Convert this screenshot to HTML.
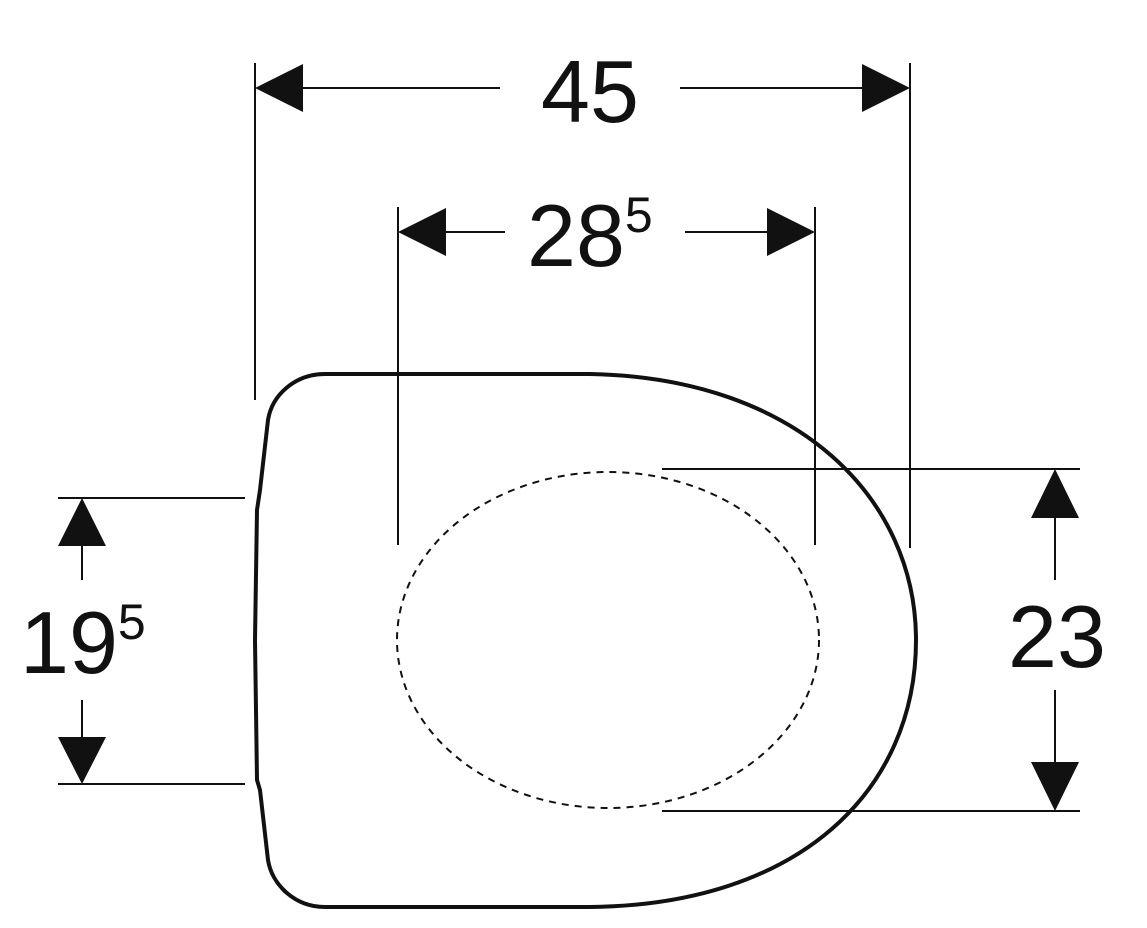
<!DOCTYPE html>
<html><head><meta charset="utf-8"><style>
html,body{margin:0;padding:0;background:#fff;}
svg{display:block;}
text{font-family:"Liberation Sans",sans-serif;fill:#111;}
</style></head><body>
<svg width="1147" height="928" viewBox="0 0 1147 928" xmlns="http://www.w3.org/2000/svg">
<g stroke="#111" stroke-width="2" fill="none">
<!-- extension lines -->
<line x1="255" y1="63" x2="255" y2="400"/>
<line x1="910" y1="63" x2="910" y2="548"/>
<line x1="398" y1="207" x2="398" y2="545"/>
<line x1="815" y1="207" x2="815" y2="545"/>
<line x1="58" y1="498" x2="245" y2="498"/>
<line x1="58" y1="784" x2="245" y2="784"/>
<line x1="662" y1="469" x2="1080" y2="469"/>
<line x1="662" y1="811" x2="1080" y2="811"/>
<!-- dim lines -->
<line x1="300" y1="88" x2="500" y2="88"/>
<line x1="680" y1="88" x2="865" y2="88"/>
<line x1="444" y1="232" x2="505" y2="232"/>
<line x1="685" y1="232" x2="770" y2="232"/>
<line x1="82" y1="544" x2="82" y2="580"/>
<line x1="82" y1="700" x2="82" y2="739"/>
<line x1="1055" y1="516" x2="1055" y2="580"/>
<line x1="1055" y1="690" x2="1055" y2="764"/>
</g>
<g fill="#111">
<polygon points="255,88 303,64 303,112"/>
<polygon points="910,88 862,64 862,112"/>
<polygon points="398,232 446,208 446,256"/>
<polygon points="815,232 767,208 767,256"/>
<polygon points="82,498 58,546 106,546"/>
<polygon points="82,784 58,737 106,737"/>
<polygon points="1055,469 1031,518 1079,518"/>
<polygon points="1055,811 1031,762 1079,762"/>
</g>
<!-- seat outline -->
<path d="M325,374 L590,374 C800,378 916,500 916,640 C916,790 800,905 590,907 L325,907 C295,907 272,885 268,860 L260,790 L257,780 L255,640 L257,510 L260,490 L268,420 C272,395 295,374 325,374 Z" stroke="#111" stroke-width="4" fill="none"/>
<!-- dashed opening -->
<ellipse cx="608" cy="640" rx="211" ry="168" stroke="#111" stroke-width="2" fill="none" stroke-dasharray="7,6"/>
<!-- labels -->
<text x="590" y="122" font-size="88" text-anchor="middle">45</text>
<text x="527" y="266" font-size="88">28<tspan font-size="50" dy="-34">5</tspan></text>
<text x="20" y="673" font-size="88">19<tspan font-size="50" dy="-34">5</tspan></text>
<text x="1057" y="667" font-size="88" text-anchor="middle">23</text>
</svg>
</body></html>
